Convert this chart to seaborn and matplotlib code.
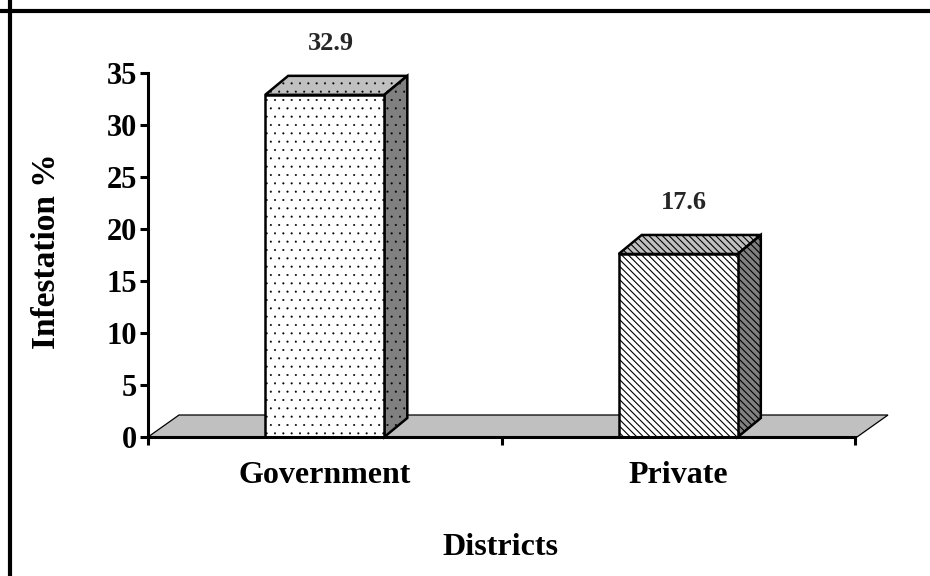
import matplotlib
matplotlib.use("Agg")
import matplotlib.pyplot as plt
import pandas as pd
import seaborn as sns
from matplotlib.patches import Polygon
from matplotlib.lines import Line2D
from matplotlib.transforms import IdentityTransform

# ---- data -------------------------------------------------------------
districts = ["Government", "Private"]
infestation = [32.9, 17.6]
value_labels = ["32.9", "17.6"]
y_ticks = [0, 5, 10, 15, 20, 25, 30, 35]

# ---- style ------------------------------------------------------------
sns.set_theme(style="white")
plt.rcParams["font.family"] = ["Liberation Serif", "DejaVu Serif"]
plt.rcParams["font.weight"] = "bold"
plt.rcParams["hatch.linewidth"] = 0.8
plt.rcParams["hatch.color"] = "black"

W, H, DPI = 930, 576, 100
fig = plt.figure(figsize=(W / DPI, H / DPI), dpi=DPI, facecolor="white")
ax = fig.add_axes([148 / W, 1 - 437 / H, (855 - 148) / W, (437 - 73) / H])

df = pd.DataFrame({"District": districts, "Infestation": infestation})
sns.barplot(data=df, x="District", y="Infestation", ax=ax, width=0.337,
            color="white", saturation=1, edgecolor="black", linewidth=1.8,
            zorder=4)

ax.set_xlim(-0.5, 1.5)
ax.set_ylim(0, 35)

hatches = ["..", "\\\\\\\\\\"]
hatch_lw = [0.25, 0.8]
bars = list(ax.patches)


def style_hatch(patch, h, lw):
    patch.set_hatch(h)
    if hasattr(patch, "set_hatch_linewidth"):
        patch.set_hatch_linewidth(lw)


for bar, h, lw in zip(bars, hatches, hatch_lw):
    style_hatch(bar, h, lw)

# ---- 3-D floor and bar faces (display-pixel offsets) ------------------
ident = IdentityTransform()
to_disp = ax.transData.transform

fx0, fy0 = to_disp((-0.5, 0))
fx1, _ = to_disp((1.5, 0))
fdx, fdy = 31, 22
floor = Polygon([(fx0, fy0), (fx1 + 2, fy0), (fx1 + 2 + fdx, fy0 + fdy),
                 (fx0 + fdx, fy0 + fdy)], closed=True, transform=ident,
                facecolor="#c0c0c0", edgecolor="black", linewidth=0.9,
                zorder=1, clip_on=False)
ax.add_artist(floor)

bdx, bdy = 23, 19
for bar, h, lw in zip(bars, hatches, hatch_lw):
    x0, y0 = to_disp((bar.get_x(), 0))
    x1, y1 = to_disp((bar.get_x() + bar.get_width(), bar.get_height()))
    top = Polygon([(x0, y1), (x1, y1), (x1 + bdx, y1 + bdy), (x0 + bdx, y1 + bdy)],
                  closed=True, transform=ident, facecolor="#c0c0c0",
                  edgecolor="black", linewidth=1.8, zorder=3, clip_on=False)
    side = Polygon([(x1, y0), (x1, y1), (x1 + bdx, y1 + bdy), (x1 + bdx, y0 + bdy)],
                   closed=True, transform=ident, facecolor="#808080",
                   edgecolor="black", linewidth=1.8, zorder=3, clip_on=False)
    style_hatch(top, h, lw)
    style_hatch(side, h, lw)
    ax.add_artist(top)
    ax.add_artist(side)

# value labels above the bars
for bar, val, txt in zip(bars, infestation, value_labels):
    cx = bar.get_x() + bar.get_width() / 2
    ax.annotate(txt, xy=(cx, val), xytext=(6, 51), textcoords="offset pixels",
                ha="center", va="center", fontsize=19, fontweight="bold",
                annotation_clip=False)

# ---- axes -------------------------------------------------------------
for side_name in ["top", "right"]:
    ax.spines[side_name].set_visible(False)
for side_name in ["left", "bottom"]:
    ax.spines[side_name].set_linewidth(2.2)
    ax.spines[side_name].set_color("black")
    ax.spines[side_name].set_zorder(6)

ax.set_yticks(y_ticks)
ax.set_yticklabels([str(t) for t in y_ticks])
ax.tick_params(axis="y", left=True, direction="out", length=6, width=2.2,
               labelsize=22, pad=2, colors="black")

ax.set_xticks([-0.5, 0.5, 1.5])
ax.set_xticklabels([])
ax.set_xticks([0, 1], minor=True)
ax.set_xticklabels(districts, minor=True)
ax.tick_params(axis="x", which="major", bottom=True, direction="out",
               length=6, width=2.2, colors="black")
ax.tick_params(axis="x", which="minor", bottom=True, length=0, pad=17,
               labelsize=23, labelcolor="black")

ax.set_ylabel("Infestation %", fontsize=24, fontweight="bold", color="black")
ax.yaxis.set_label_coords(-0.144, 0.51)
ax.yaxis.label.set_va("center")
ax.set_xlabel("Districts", fontsize=23, fontweight="bold", color="black")
ax.xaxis.set_label_coords(0.498, -0.303)
ax.xaxis.label.set_va("center")

# frame lines along the top and left edges of the figure
fig.add_artist(Line2D([0, 1], [1 - 11 / H] * 2, transform=fig.transFigure,
                      color="black", linewidth=3.0))
fig.add_artist(Line2D([10 / W] * 2, [0, 1], transform=fig.transFigure,
                      color="black", linewidth=3.0))

fig.savefig("out.png", dpi=DPI, facecolor="white")
